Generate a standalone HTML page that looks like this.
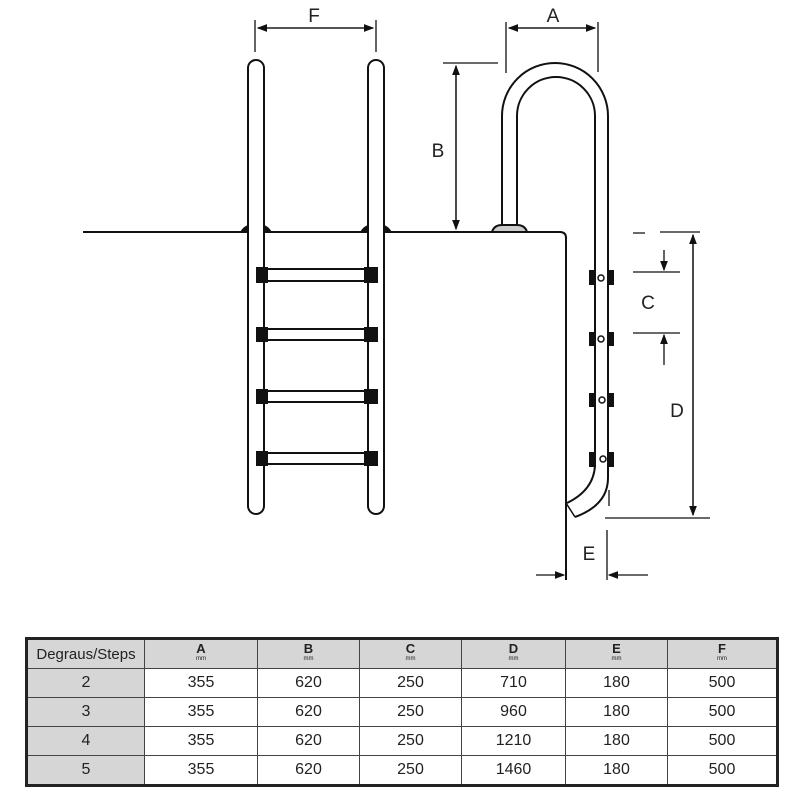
<!DOCTYPE html>
<html><head><style>
body{margin:0;background:#fff;width:800px;height:800px;overflow:hidden;position:relative;font-family:"Liberation Sans",Arial,sans-serif}
svg{position:absolute;left:0;top:0}
table{position:absolute;left:25px;top:637px;border-collapse:collapse;border:3px solid #222}
td{border:1.5px solid #444;text-align:center;font-size:16px;color:#222;height:28px;padding:0}
.g{background:#d6d6d6}
.h{font-weight:bold;font-size:13px;line-height:11px}
.h small{display:block;font-size:6px;font-weight:normal}
</style></head><body>
<svg width="800" height="630" viewBox="0 0 800 630" fill="none" stroke="#111" stroke-width="2">
<defs><marker id="ar" markerWidth="8" markerHeight="6" refX="7" refY="3" orient="auto"><path d="M0,0L8,3L0,6z" fill="#111" stroke="none"/></marker></defs>
<!-- deck & wall -->
<path d="M83 232H560Q566 232 566 238V580"/>
<g fill="#111" stroke="none">
<path d="M240 232q4-6 8-7v7zM264 225q4 1 8 7h-8zM360 232q4-6 8-7v7zM384 225q4 1 8 7h-8z"/>
</g>
<!-- left ladder rails -->
<rect x="248" y="60" width="16" height="454" rx="8" fill="#fff"/>
<rect x="368" y="60" width="16" height="454" rx="8" fill="#fff"/>
<g>
<rect x="264" y="269" width="104" height="12" fill="#fff"/>
<rect x="264" y="329" width="104" height="11" fill="#fff"/>
<rect x="264" y="391" width="104" height="11" fill="#fff"/>
<rect x="264" y="453" width="104" height="11" fill="#fff"/>
</g>
<g fill="#111" stroke="none">
<rect x="256" y="267" width="12" height="16"/><rect x="364" y="267" width="14" height="16"/>
<rect x="256" y="327" width="12" height="15"/><rect x="364" y="327" width="14" height="15"/>
<rect x="256" y="389" width="12" height="15"/><rect x="364" y="389" width="14" height="15"/>
<rect x="256" y="451" width="12" height="15"/><rect x="364" y="451" width="14" height="15"/>
</g>
<!-- right ladder U -->
<path d="M502 226V116a53 53 0 0 1 106 0V478Q608 505 575 517"/>
<path d="M517 226V116a38 38 0 0 1 78 0V465Q594 490 567 503"/>
<path d="M566 503L575 517" stroke-width="1.5"/>
<path d="M492 232q2-7 10-7h15q8 0 10 7z" fill="#ccc"/>
<g fill="#111" stroke="none">
<rect x="589" y="270" width="7" height="15"/><rect x="607" y="270" width="7" height="15"/>
<rect x="589" y="332" width="7" height="14"/><rect x="607" y="332" width="7" height="14"/>
<rect x="589" y="393" width="7" height="14"/><rect x="607" y="393" width="7" height="14"/>
<rect x="589" y="452" width="7" height="15"/><rect x="607" y="452" width="7" height="15"/>
</g>
<g stroke-width="1.5" fill="#fff"><circle cx="601" cy="278" r="3"/><circle cx="601" cy="339" r="3"/><circle cx="602" cy="400" r="3"/><circle cx="603" cy="459" r="3"/></g>
<!-- dims -->
<g stroke-width="1.3">
<path d="M255 20V52M376 20V52"/>
<path d="M258 28H373" marker-end="url(#ar)"/><path d="M373 28H258" marker-end="url(#ar)"/>
<path d="M506 22V73M598 22V72"/>
<path d="M509 28H595" marker-end="url(#ar)"/><path d="M595 28H509" marker-end="url(#ar)"/>
<path d="M443 63H498"/>
<path d="M456 66V229" marker-end="url(#ar)"/><path d="M456 229V66" marker-end="url(#ar)"/>
<path d="M633 233H645M633 272H680M633 333H680"/>
<path d="M664 250V270" marker-end="url(#ar)"/><path d="M664 365V335" marker-end="url(#ar)"/>
<path d="M660 232H700M605 518H710"/>
<path d="M693 235V515" marker-end="url(#ar)"/><path d="M693 515V235" marker-end="url(#ar)"/>
<path d="M609 490V506M607 530V580"/>
<path d="M536 575H564" marker-end="url(#ar)"/><path d="M648 575H609" marker-end="url(#ar)"/>
</g>
<g fill="#222" stroke="none" font-size="19" font-family="Liberation Sans,Arial,sans-serif" text-anchor="middle">
<text x="314" y="22">F</text><text x="553" y="22">A</text><text x="438" y="157">B</text>
<text x="648" y="309">C</text><text x="677" y="417">D</text><text x="589" y="560">E</text>
</g>
</svg>
<table>
<tr><td class="g" style="width:116px;font-size:15px">Degraus/Steps</td><td class="g h" style="width:112px">A<small>mm</small></td><td class="g h" style="width:101px">B<small>mm</small></td><td class="g h" style="width:101px">C<small>mm</small></td><td class="g h" style="width:103px">D<small>mm</small></td><td class="g h" style="width:101px">E<small>mm</small></td><td class="g h" style="width:108px">F<small>mm</small></td></tr>
<tr><td class="g">2</td><td>355</td><td>620</td><td>250</td><td>710</td><td>180</td><td>500</td></tr>
<tr><td class="g">3</td><td>355</td><td>620</td><td>250</td><td>960</td><td>180</td><td>500</td></tr>
<tr><td class="g">4</td><td>355</td><td>620</td><td>250</td><td>1210</td><td>180</td><td>500</td></tr>
<tr><td class="g">5</td><td>355</td><td>620</td><td>250</td><td>1460</td><td>180</td><td>500</td></tr>
</table>
</body></html>
